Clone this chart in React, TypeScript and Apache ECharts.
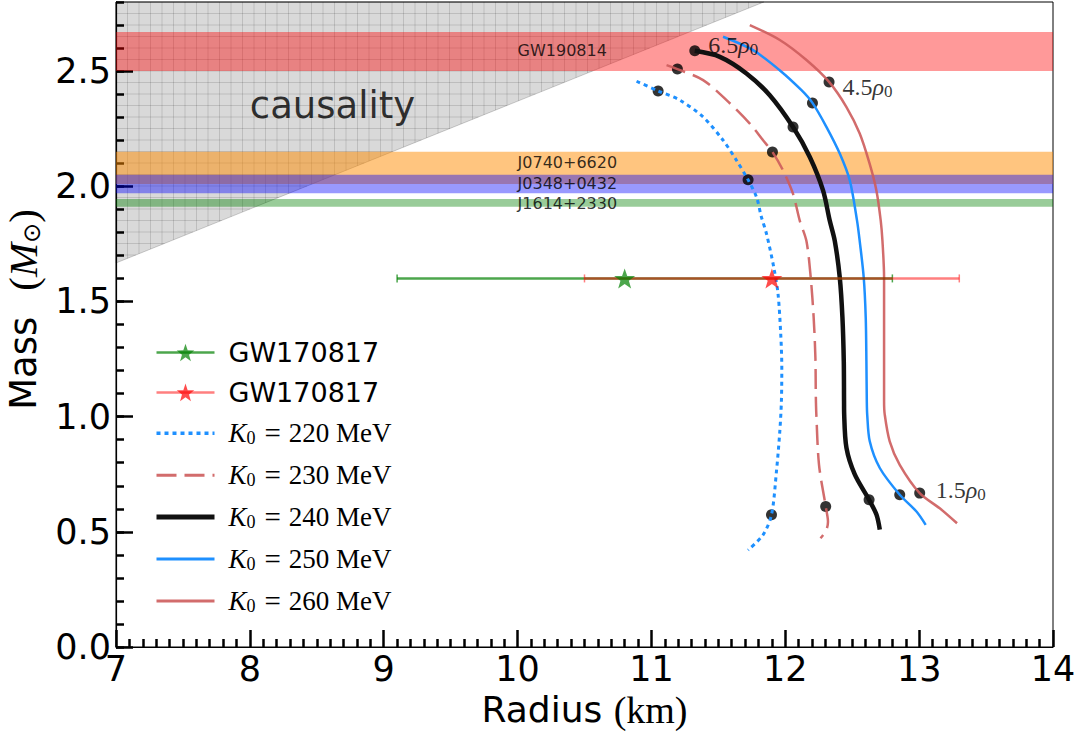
import React, { useEffect, useRef } from "react";
import * as echarts from "echarts";

// ---------- data ----------
const curve220: number[][] = [[10.889,2.456],[11.05,2.414],[11.212,2.374],[11.386,2.301],[11.535,2.2],[11.635,2.113],[11.722,2.028],[11.785,1.953],[11.82,1.87],[11.86,1.793],[11.914,1.648],[11.946,1.532],[11.966,1.358],[11.974,1.212],[11.971,1.067],[11.959,0.936],[11.934,0.762],[11.897,0.574],[11.834,0.487],[11.722,0.421]];
const curve230: number[][] = [[11.113,2.526],[11.194,2.509],[11.386,2.461],[11.561,2.374],[11.735,2.272],[11.834,2.2],[11.904,2.149],[11.983,2.069],[12.058,1.967],[12.108,1.851],[12.158,1.762],[12.19,1.604],[12.212,1.43],[12.225,1.256],[12.228,1.096],[12.232,1.009],[12.252,0.791],[12.302,0.61],[12.319,0.544],[12.305,0.505],[12.263,0.472]];
const curve240: number[][] = [[11.324,2.588],[11.511,2.562],[11.71,2.49],[11.884,2.395],[12.058,2.257],[12.183,2.127],[12.282,1.982],[12.332,1.851],[12.37,1.762],[12.407,1.604],[12.427,1.43],[12.437,1.241],[12.439,1.067],[12.44,1.01],[12.457,0.864],[12.519,0.749],[12.626,0.639],[12.681,0.575],[12.706,0.51]];
const curve250: number[][] = [[11.535,2.649],[11.759,2.591],[11.958,2.504],[12.121,2.417],[12.203,2.362],[12.308,2.257],[12.407,2.142],[12.482,2.025],[12.536,1.851],[12.556,1.762],[12.586,1.604],[12.601,1.43],[12.606,1.241],[12.609,1.067],[12.612,1.009],[12.631,0.893],[12.706,0.777],[12.855,0.661],[12.98,0.588],[13.049,0.53]];
const curve260: number[][] = [[11.735,2.7],[11.959,2.635],[12.158,2.548],[12.327,2.453],[12.457,2.344],[12.556,2.229],[12.63,2.098],[12.681,1.981],[12.713,1.851],[12.726,1.762],[12.738,1.604],[12.738,1.43],[12.738,1.241],[12.738,1.067],[12.743,1.009],[12.78,0.893],[12.855,0.791],[13.004,0.668],[13.154,0.602],[13.283,0.537]];

const densityDots: number[][] = [[11.05,2.414],[11.722,2.028],[11.897,0.574],[11.194,2.509],[11.904,2.149],[12.302,0.61],[11.324,2.588],[12.058,2.257],[12.626,0.639],[12.203,2.362],[12.855,0.661],[12.327,2.453],[13.004,0.668]];

const bandNames = ["GW190814", "J0740+6620", "J0348+0432", "J1614+2330"];
const bandLow = [2.5, 2.01, 1.97, 1.911];
const bandHigh = [2.67, 2.15, 2.05, 1.945];
const bandLabelX = [10, 10, 10, 10];
const bandLabelY = [2.591, 2.104, 2.012, 1.925];

const gwCenter = [10.8, 11.9];
const gwLow = [9.1, 10.5];
const gwHigh = [12.8, 13.3];
const gwMass = [1.6, 1.6];

const causalityEdge: number[][] = [[7, 1.667], [11.84, 2.8]];
const causalityLabelPos = [8.0, 2.352];

const annotText = ["6.5", "4.5", "1.5"];
const annotX = [11.424, 12.427, 13.124];
const annotY = [2.612, 2.432, 0.681];

const xTicks = [7, 14, 1];
const yMajorTicks = [0, 0.5, 1.0, 1.5, 2.0, 2.5];
const yMax = 2.8;

const k0Values = [220, 230, 240, 250, 260];

// ---------- styles ----------
const bandFill = ["rgba(255,0,0,0.4)", "rgba(255,140,0,0.5)", "rgba(0,0,255,0.4)", "rgba(0,128,0,0.4)"];
const gwColor = ["rgba(0,128,0,0.7)", "rgba(255,0,0,0.5)"];
const gwStarColor = ["rgba(0,128,0,0.7)", "rgba(255,0,0,0.7)"];
const BLUE = "#1E90FF";
const IRED = "rgba(205,92,92,0.9)";
const STAR = "path://M50 0 L61.76 33.82 L97.55 34.55 L69.02 56.18 L79.39 90.45 L50 70 L20.61 90.45 L30.98 56.18 L2.45 34.55 L38.24 33.82 Z";

export default function App() {
  const ref = useRef<HTMLDivElement>(null);
  useEffect(() => {
    if (!ref.current) return;
    const chart = echarts.init(ref.current, undefined, { renderer: "svg" });

    const serif = "Liberation Serif";
    const sans = "DejaVu Sans";

    const curves = [curve220, curve230, curve240, curve250, curve260];
    const curveStyles: any[] = [
      { color: BLUE, width: 3, type: [4, 4] },
      { color: IRED, width: 2.5, type: [20, 8] },
      { color: "#111", width: 4.5, type: "solid" },
      { color: BLUE, width: 2.5, type: "solid" },
      { color: IRED, width: 2.5, type: "solid" },
    ];

    const legendLabel: Record<string, string> = {
      GW_a: "{g|GW170817}",
      GW_b: "{g|GW170817}",
    };
    k0Values.forEach((k) => {
      legendLabel["K" + k] = "{i|K}{s|0}{e|=}{n|" + k + " MeV}";
    });
    const legendData: any[] = [
      { name: "GW_a", lineStyle: { width: 2.5 } },
      { name: "GW_b", lineStyle: { width: 2.5 } },
      ...k0Values.map((k, i) => ({
        name: "K" + k, itemStyle: { opacity: 0 },
        lineStyle: { width: curveStyles[i].width + 0.5, type: curveStyles[i].type, color: curveStyles[i].color },
      })),
    ];

    const tickStyle = { color: "#000", width: 2.5 };

    const option: any = {
      animation: false,
      backgroundColor: "#fff",
      grid: {
        left: 116, right: 28, top: 2, bottom: 87,
        show: true, borderColor: "#000", borderWidth: 1,
        containLabel: false, outerBoundsMode: "none",
      },
      xAxis: [{
        type: "value", min: xTicks[0], max: xTicks[1], interval: xTicks[2], position: "bottom",
        axisLine: { show: true, onZero: false, lineStyle: { color: "#000", width: 1.2 } },
        axisTick: { show: true, inside: true, length: 17, lineStyle: tickStyle },
        minorTick: { show: true, splitNumber: 10, length: 8, lineStyle: tickStyle },
        axisLabel: { fontSize: 35, fontFamily: sans, color: "#000", margin: 4 },
        splitLine: { show: false }, minorSplitLine: { show: false },
        name: "{a|Radius }{b|(km)}", nameLocation: "middle", nameGap: 38,
        nameTextStyle: {
          rich: {
            a: { fontFamily: sans, fontSize: 36, lineHeight: 40, color: "#000" },
            b: { fontFamily: serif, fontSize: 38, lineHeight: 40, color: "#000" },
          },
        },
      }],
      yAxis: [{
        type: "value", min: 0, max: yMax, position: "left",
        axisLine: { show: true, onZero: false, lineStyle: { color: "#000", width: 1.2 } },
        axisTick: { show: true, inside: true, length: 17, lineStyle: tickStyle, customValues: yMajorTicks },
        axisLabel: {
          fontSize: 35, fontFamily: sans, color: "#000", margin: 5,
          customValues: yMajorTicks, formatter: (v: number) => v.toFixed(1),
        },
        splitLine: { show: false },
        name: "{a|Mass}{b|(}{c|M}{d|⊙}{b|)}", nameLocation: "middle", nameRotate: 90, nameGap: 64,
        nameTextStyle: {
          padding: [0, 0, 0, 30],
          rich: {
            a: { fontFamily: sans, fontSize: 37, lineHeight: 42, color: "#000", padding: [0, 26, 0, 0] },
            b: { fontFamily: serif, fontSize: 41, lineHeight: 42, color: "#000" },
            c: { fontFamily: serif, fontStyle: "italic", fontSize: 41, lineHeight: 42, color: "#000" },
            d: { fontFamily: sans, fontSize: 24, lineHeight: 14, verticalAlign: "bottom", color: "#000" },
          },
        },
      }, {
        type: "value", min: 0, max: yMax, interval: 0.1, position: "left", offset: 0,
        axisLine: { show: false },
        axisTick: { show: true, inside: true, length: 8, lineStyle: tickStyle },
        axisLabel: { show: false }, splitLine: { show: false },
      }],
      legend: {
        orient: "vertical", left: 149, top: 334, itemWidth: 58, itemHeight: 22, itemGap: 12.9,
        selectedMode: false, data: legendData,
        formatter: (name: string) => legendLabel[name],
        textStyle: {
          color: "#000", padding: [0, 0, 0, 9],
          rich: {
            g: { fontFamily: sans, fontSize: 27, lineHeight: 28, color: "#000" },
            i: { fontFamily: serif, fontStyle: "italic", fontSize: 27, lineHeight: 28, color: "#000" },
            s: { fontFamily: serif, fontSize: 18, lineHeight: 12, verticalAlign: "bottom", color: "#000" },
            e: { fontFamily: serif, fontSize: 29, lineHeight: 28, color: "#000", padding: [0, 8, 0, 9] },
            n: { fontFamily: serif, fontSize: 27, lineHeight: 28, color: "#000" },
          },
        },
      },
      series: [] as any[],
    };

    // causality region with hatch
    option.series.push({
      type: "custom", silent: true, z: 1, data: [[causalityEdge[0][0], yMax]],
      renderItem: (params: any, api: any) => {
        const p0 = api.coord(causalityEdge[0]);
        const p1 = api.coord(causalityEdge[1]);
        const tl = api.coord([causalityEdge[0][0], yMax]);
        const children: any[] = [{
          type: "polygon", shape: { points: [p0, p1, tl] },
          style: { fill: "rgba(0,0,0,0.15)", stroke: "rgba(0,0,0,0.18)", lineWidth: 1 },
        }];
        const step = 11.5;
        const hs = { stroke: "rgba(0,0,0,0.13)", lineWidth: 1 };
        for (let x = tl[0] + step; x < p1[0]; x += step) {
          const t = (x - p0[0]) / (p1[0] - p0[0]);
          const yd = p0[1] + t * (p1[1] - p0[1]);
          children.push({ type: "line", shape: { x1: x, y1: tl[1], x2: x, y2: yd }, style: hs });
        }
        for (let y = tl[1] + step; y < p0[1]; y += step) {
          const t = (p0[1] - y) / (p0[1] - p1[1]);
          const xd = p0[0] + t * (p1[0] - p0[0]);
          children.push({ type: "line", shape: { x1: tl[0], y1: y, x2: xd, y2: y }, style: hs });
        }
        return { type: "group", children };
      },
    });

    // bands
    option.series.push({
      type: "custom", silent: true, z: 2,
      data: bandLow.map((l, i) => [l, bandHigh[i], i]),
      encode: { y: [0, 1] },
      renderItem: (params: any, api: any) => {
        const cs = params.coordSys;
        const lo = api.value(0), hi = api.value(1), idx = api.value(2);
        const yTop = api.coord([xTicks[0], hi])[1];
        const yBot = api.coord([xTicks[0], lo])[1];
        return {
          type: "rect", shape: { x: cs.x, y: yTop, width: cs.width, height: yBot - yTop },
          style: { fill: bandFill[idx] },
        };
      },
    });

    // band labels
    option.series.push({
      type: "scatter", silent: true, z: 8, symbolSize: 0,
      data: bandNames.map((n, i) => ({ name: n, value: [bandLabelX[i], bandLabelY[i]] })),
      label: { show: true, position: "right", distance: 0, formatter: (p: any) => p.name, fontFamily: sans, fontSize: 16, color: "#000" },
    });

    // causality label
    option.series.push({
      type: "scatter", silent: true, z: 8, symbolSize: 0,
      data: [{ name: "causality", value: causalityLabelPos }],
      label: { show: true, position: "right", distance: 0, formatter: (p: any) => p.name, fontFamily: sans, fontSize: 37, color: "#000" },
    });

    // GW170817 error bars
    gwCenter.forEach((c, i) => {
      option.series.push({
        type: "custom", silent: true, z: 5,
        data: [[c, gwMass[i], gwLow[i], gwHigh[i]]],
        renderItem: (params: any, api: any) => {
          const y = api.value(1);
          const a = api.coord([api.value(2), y]);
          const b = api.coord([api.value(3), y]);
          const st = { stroke: gwColor[i], lineWidth: 2.5 };
          const st2 = { stroke: gwColor[i], lineWidth: 1.5 };
          return {
            type: "group", children: [
              { type: "line", shape: { x1: a[0], y1: a[1], x2: b[0], y2: b[1] }, style: st },
              { type: "line", shape: { x1: a[0], y1: a[1] - 4, x2: a[0], y2: a[1] + 4 }, style: st2 },
              { type: "line", shape: { x1: b[0], y1: b[1] - 4, x2: b[0], y2: b[1] + 4 }, style: st2 },
            ],
          };
        },
      });
      option.series.push({
        type: "line", name: i === 0 ? "GW_a" : "GW_b", silent: true, z: 6,
        data: [[c, gwMass[i]]], symbol: STAR, symbolSize: 21, symbolKeepAspect: true, showSymbol: true,
        itemStyle: { color: gwStarColor[i] },
        lineStyle: { color: gwColor[i], width: 2.5 },
      });
    });

    // density dots
    option.series.push({
      type: "scatter", silent: true, z: 3, symbol: "circle", symbolSize: 11,
      data: densityDots, itemStyle: { color: "#000" },
    });

    // M-R curves
    curves.forEach((cv, i) => {
      option.series.push({
        type: "line", name: "K" + k0Values[i], silent: true, z: 4,
        data: cv, symbol: "none", smooth: 0.3,
        lineStyle: curveStyles[i], itemStyle: { color: curveStyles[i].color },
      });
    });

    // density annotations
    option.series.push({
      type: "scatter", silent: true, z: 8, symbolSize: 0,
      data: annotText.map((t, i) => ({ name: t, value: [annotX[i], annotY[i]] })),
      label: {
        show: true, position: "right", distance: 0,
        formatter: (p: any) => "{n|" + p.name + "}{r|ρ}{s|0}",
        rich: {
          n: { fontFamily: serif, fontSize: 24, lineHeight: 26, color: "#000" },
          r: { fontFamily: serif, fontStyle: "italic", fontSize: 24, lineHeight: 26, color: "#000" },
          s: { fontFamily: serif, fontSize: 17, lineHeight: 10, verticalAlign: "bottom", color: "#000" },
        },
      },
    });

    chart.setOption(option);
    return () => chart.dispose();
  }, []);

  return (
    <div
      ref={ref}
      style={{ position: "fixed", left: 0, top: 0, width: 1081, height: 734, background: "#fff" }}
    />
  );
}
